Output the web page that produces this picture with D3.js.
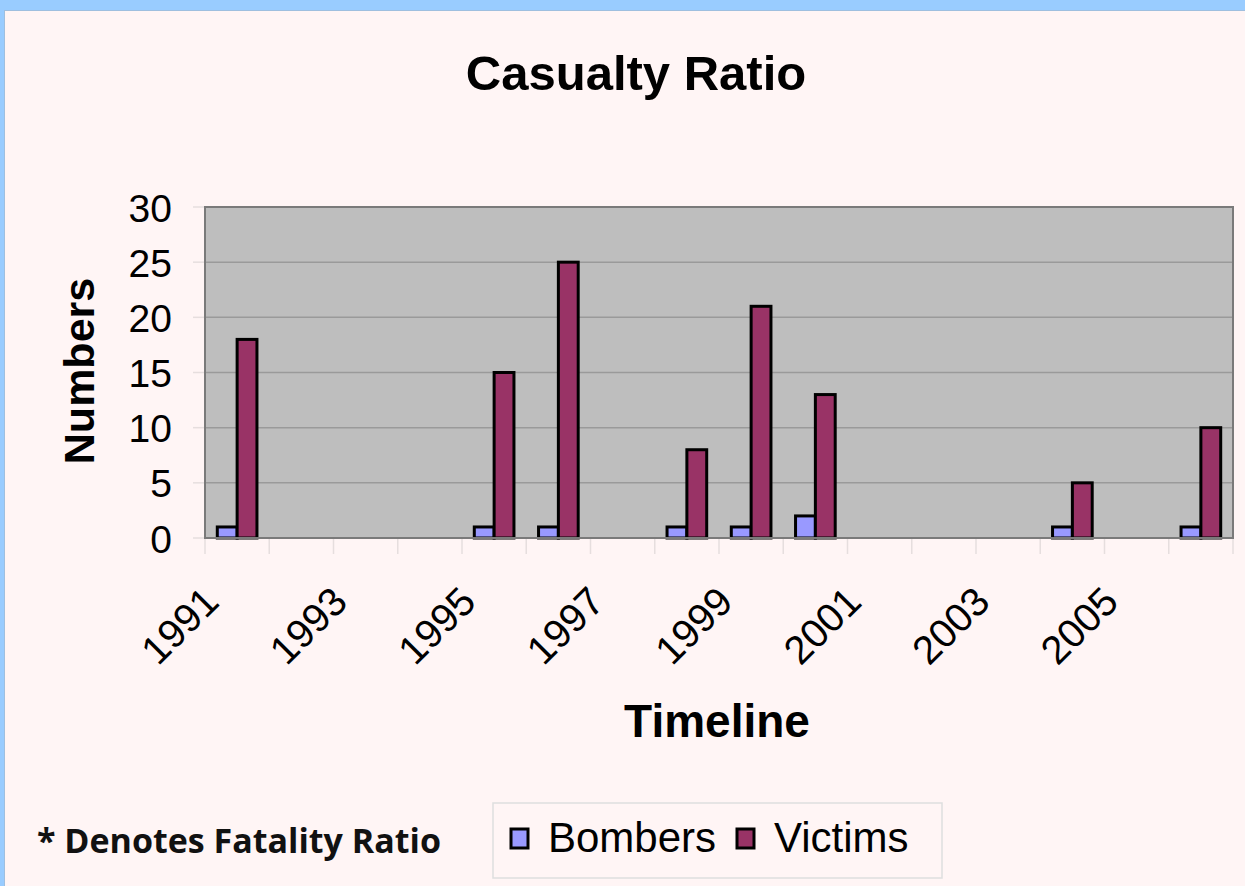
<!DOCTYPE html>
<html>
<head>
<meta charset="utf-8">
<script src="https://cdn.jsdelivr.net/npm/d3@7"></script>
<style>
  html, body { margin: 0; padding: 0; background: #99ccff; }
  svg { display: block; }
</style>
</head>
<body>
<svg id="chart" width="1245" height="886"></svg>
<script>
const years = ["1991","1992","1993","1994","1995","1996","1997","1998","1999","2000","2001","2002","2003","2004","2005","2006"];
const bombers = [1,0,0,0,1,1,0,1,1,2,0,0,0,1,0,1];
const victims = [18,0,0,0,15,25,0,8,21,13,0,0,0,5,0,10];
const seriesNames = ["Bombers","Victims"];
const seriesColors = ["#9999ff","#993366"];
const yTicks = [0,5,10,15,20,25,30];
const xTickLabels = ["1991","1993","1995","1997","1999","2001","2003","2005"];

const svg = d3.select("#chart");
const W = 1245, H = 886;

// page background with blue frame
svg.append("rect").attr("x",0).attr("y",0).attr("width",W).attr("height",H).attr("fill","#99ccff");
svg.append("rect").attr("x",4).attr("y",10).attr("width",W-4).attr("height",H-10).attr("fill","#9fbfdf");
svg.append("rect").attr("x",5).attr("y",11).attr("width",W-5).attr("height",H-11).attr("fill","#fff5f5");

const plot = {left:205, right:1233, top:207, bottom:538};

const x = d3.scaleBand().domain(years).range([plot.left, plot.right]).padding(0);
const xSub = d3.scaleBand().domain(seriesNames).range([0, x.bandwidth()]).paddingInner(0).paddingOuter(0.62);
const y = d3.scaleLinear().domain([0,30]).range([plot.bottom, plot.top]);

// faint tick marks outside plot
const g = svg.append("g");
g.selectAll("line.xt").data(years.concat(["end"])).join("line")
  .attr("x1",(d,i)=> plot.left + i*x.step()).attr("x2",(d,i)=> plot.left + i*x.step())
  .attr("y1",plot.bottom).attr("y2",plot.bottom+16)
  .attr("stroke","#e6dede").attr("stroke-width",1.5);
g.selectAll("line.yt").data(yTicks).join("line")
  .attr("x1",plot.left-12).attr("x2",plot.left)
  .attr("y1",d=>y(d)).attr("y2",d=>y(d))
  .attr("stroke","#e6dede").attr("stroke-width",1.5);

// plot background
svg.append("rect").attr("x",plot.left).attr("y",plot.top)
  .attr("width",plot.right-plot.left).attr("height",plot.bottom-plot.top)
  .attr("fill","#bebebe");

// gridlines
svg.append("g").selectAll("line").data(yTicks.filter(d=>d>0 && d<30)).join("line")
  .attr("x1",plot.left).attr("x2",plot.right)
  .attr("y1",d=>y(d)).attr("y2",d=>y(d))
  .attr("stroke","#9a9a9a").attr("stroke-width",1.5);

// bars
const data = years.map((yr,i)=>({year:yr, vals:[bombers[i], victims[i]]}));
const groups = svg.append("g").selectAll("g").data(data).join("g")
  .attr("transform",d=>`translate(${x(d.year)},0)`);
groups.selectAll("rect").data(d=>d.vals.map((v,j)=>({v, s:seriesNames[j], c:seriesColors[j]})).filter(e=>e.v>0))
  .join("rect")
  .attr("x",d=>xSub(d.s)).attr("width",xSub.bandwidth())
  .attr("y",d=>y(d.v)).attr("height",d=>plot.bottom-y(d.v))
  .attr("fill",d=>d.c).attr("stroke","#000").attr("stroke-width",3);

// plot border
svg.append("rect").attr("x",plot.left).attr("y",plot.top)
  .attr("width",plot.right-plot.left).attr("height",plot.bottom-plot.top)
  .attr("fill","none").attr("stroke","#7a7a7a").attr("stroke-width",2);

const sans = "'Liberation Sans', Arial, Helvetica, sans-serif";

// y axis labels
const yAxis = d3.axisLeft(y).tickValues(yTicks).tickSize(0).tickPadding(0);
const ya = svg.append("g").attr("transform",`translate(172,0)`).call(yAxis);
ya.select(".domain").remove();
ya.selectAll("text").attr("font-family",sans).attr("font-size",39).attr("fill","#000").attr("dy","0.36em");

// x axis labels
const xAxis = d3.axisBottom(x).tickValues(xTickLabels).tickSize(0).tickPadding(0);
const xa = svg.append("g").attr("transform",`translate(0,${plot.bottom})`).call(xAxis);
xa.select(".domain").remove();
xa.selectAll("text")
  .attr("font-family",sans).attr("font-size",40).attr("fill","#000")
  .attr("text-anchor","end")
  .attr("transform","translate(-26,56) rotate(-45)")
  .attr("dy","0.35em").attr("y",0).attr("x",0);

// title
svg.append("text").attr("x",636).attr("y",90).attr("text-anchor","middle")
  .attr("font-family",sans).attr("font-weight","bold").attr("font-size",49).attr("fill","#000")
  .text("Casualty Ratio");

// axis titles
svg.append("text").attr("transform","translate(94,371) rotate(-90)").attr("text-anchor","middle")
  .attr("font-family",sans).attr("font-weight","bold").attr("font-size",43).attr("fill","#000")
  .text("Numbers");
svg.append("text").attr("x",717).attr("y",737).attr("text-anchor","middle")
  .attr("font-family",sans).attr("font-weight","bold").attr("font-size",46).attr("fill","#000")
  .text("Timeline");

// footnote
svg.append("text").attr("x",37).attr("y",853)
  .attr("font-family","'Open Sans', 'Noto Sans', sans-serif").attr("font-weight","bold").attr("font-size",34).attr("fill","#111")
  .text("* Denotes Fatality Ratio");

// legend
const leg = svg.append("g");
leg.append("rect").attr("x",493).attr("y",803).attr("width",449).attr("height",75)
  .attr("fill","none").attr("stroke","#dedede").attr("stroke-width",1.5);
const legX = [511, 737];
const li = leg.selectAll("g").data(seriesNames).join("g")
  .attr("transform",(d,i)=>`translate(${legX[i]},0)`);
li.append("rect").attr("x",0).attr("y",829).attr("width",17).attr("height",19)
  .attr("fill",(d,i)=>seriesColors[i]).attr("stroke","#000").attr("stroke-width",3);
li.append("text").attr("x",37).attr("y",852)
  .attr("font-family",sans).attr("font-size",42).attr("fill","#000")
  .text(d=>d);
</script>
</body>
</html>
